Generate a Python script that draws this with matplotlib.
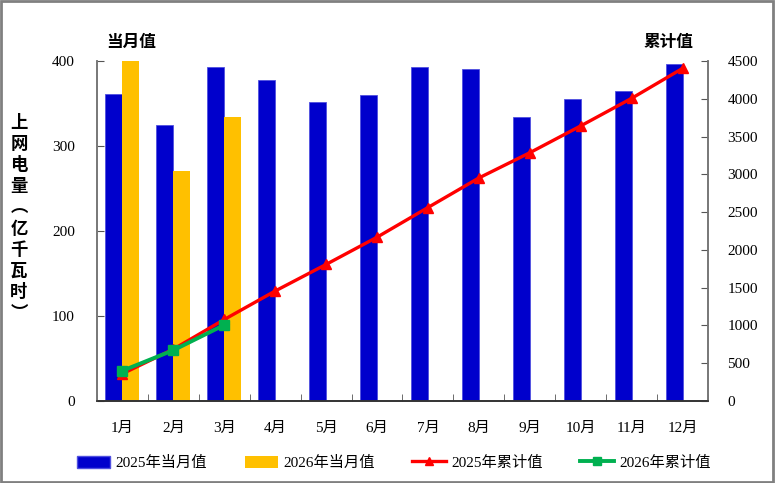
import numpy as np
import matplotlib
matplotlib.use('Agg')
import matplotlib.pyplot as plt
from matplotlib.lines import Line2D
from matplotlib.patches import Patch

plt.rcParams['font.family'] = ['Liberation Serif', 'Noto Sans CJK SC']

months = ['1月', '2月', '3月', '4月', '5月', '6月', '7月', '8月', '9月', '10月', '11月', '12月']
month_2025 = [361, 325, 393, 378, 352, 360, 393, 391, 334, 355, 365, 396]
month_2026 = [401, 271, 334]
cum_2025 = [361, 686, 1079, 1456, 1808, 2168, 2561, 2952, 3286, 3641, 4006, 4402]
cum_2026 = [401, 672, 1006]

blue = '#0000CC'
orange = '#FFC000'
red = '#FF0000'
green = '#00B050'


def main():
    fig = plt.figure(figsize=(7.75, 4.83), dpi=100)
    ax = fig.add_axes([97 / 775, 1 - 401 / 483, 611 / 775, 340 / 483])
    ax2 = ax.twinx()

    x = np.arange(len(months))
    w = 0.334
    ax.bar(x - w / 2, month_2025, w, color=blue, edgecolor='#5050E0', linewidth=0.6, zorder=2)
    ax.bar(x[:len(month_2026)] + w / 2, month_2026, w, color=orange, zorder=2)

    ax2.plot(x, cum_2025, color=red, lw=2.4, marker='^', ms=7, zorder=3)
    ax2.plot(x[:len(cum_2026)], cum_2026, color=green, lw=2.8, marker='s', ms=6.5, zorder=4)

    ax.set_xlim(-0.5, 11.5)
    ax.set_ylim(0, 400)
    ax2.set_ylim(0, 4500)
    ax.set_yticks([0, 100, 200, 300, 400])
    ax2.set_yticks(np.arange(0, 4501, 500))

    ax.set_xticks(x)
    ax.set_xticklabels(months, fontsize=11)
    ax.set_xticks(np.arange(-0.5, 12, 1), minor=True)
    ax.tick_params(axis='x', which='major', length=0, pad=15)
    ax.tick_params(axis='x', which='minor', direction='in', length=5, color='#555555')
    ax.tick_params(axis='y', direction='in', length=5, pad=16, labelsize=11, color='#555555')
    ax2.tick_params(axis='y', direction='in', length=5, pad=14, labelsize=11, color='#555555')

    for a in (ax, ax2):
        a.spines['top'].set_visible(False)
        a.spines['left'].set_color('#777777')
        a.spines['right'].set_color('#777777')
        a.spines['bottom'].set_color('#333333')
        a.spines['left'].set_linewidth(1.2)
        a.spines['right'].set_linewidth(1.2)
        a.spines['bottom'].set_linewidth(1.2)

    fig.text(131 / 775, 1 - 42 / 483, '当月值', ha='center', va='center',
             fontsize=12, fontweight='bold', family='Noto Sans CJK SC')
    fig.text(668 / 775, 1 - 42 / 483, '累计值', ha='center', va='center',
             fontsize=12, fontweight='bold', family='Noto Sans CJK SC')

    label = '上网电量︵亿千瓦时︶'
    fig.text(19 / 775, 1 - 218 / 483, '\n'.join(label), ha='center', va='center',
             fontsize=12.5, fontweight='bold', family='Noto Sans CJK SC', linespacing=1.22)

    handles = [
        Patch(facecolor=blue, edgecolor='#5050E0'),
        Patch(facecolor=orange),
        Line2D([], [], color=red, lw=2.4, marker='^', ms=6),
        Line2D([], [], color=green, lw=2.8, marker='s', ms=5.5),
    ]
    labels = ['2025年当月值', '2026年当月值', '2025年累计值', '2026年累计值']
    fig.legend(handles, labels, loc='center', bbox_to_anchor=(0.508, 1 - 463 / 483),
               ncol=4, frameon=False, fontsize=11, handlelength=2.2, handleheight=0.8,
               handletextpad=0.35, columnspacing=2.45)

    fig.patches.append(plt.Rectangle((0.001, 0.002), 0.997, 0.996, transform=fig.transFigure,
                                     fill=False, edgecolor='#808080', lw=2))

    fig.savefig('out.png', dpi=100)


if __name__ == '__main__':
    main()
